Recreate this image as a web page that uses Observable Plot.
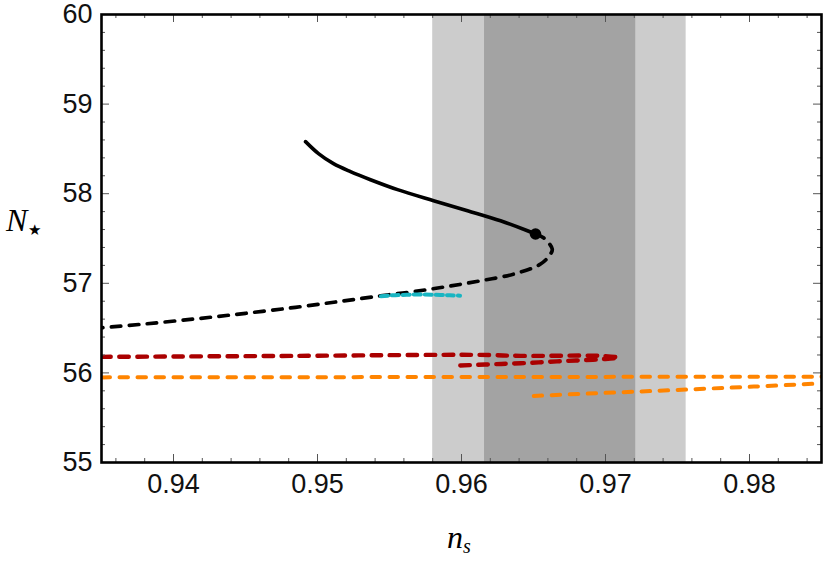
<!DOCTYPE html>
<html>
<head>
<meta charset="utf-8">
<script src="https://cdn.jsdelivr.net/npm/d3@7"></script>
<script src="https://cdn.jsdelivr.net/npm/@observablehq/plot@0.6"></script>
<style>
  html, body { margin: 0; padding: 0; background: #fff; }
  #chart { width: 826px; height: 565px; }
</style>
</head>
<body>
<div id="chart"></div>
<script>
// ---- Data ----
// Observational bands in n_s (2-sigma light, 1-sigma dark)
const band2 = [0.9580, 0.9756];
const band1 = [0.9616, 0.9721];

// Black solid branch
const solidNs = [0.94917, 0.95007, 0.95111, 0.95229, 0.95368, 0.95556, 0.95806, 0.96042, 0.96271, 0.96458, 0.96514];
const solidN  = [58.581, 58.447, 58.335, 58.246, 58.156, 58.045, 57.922, 57.810, 57.698, 57.587, 57.550];

// Black dashed branch
const dashNs = [0.96514, 0.96572, 0.96630, 0.96618, 0.96549, 0.96363, 0.96132, 0.95901, 0.95669, 0.95438, 0.95160, 0.94847, 0.94500, 0.94153, 0.93806, 0.93500];
const dashN  = [57.550, 57.505, 57.382, 57.326, 57.215, 57.103, 57.028, 56.964, 56.908, 56.860, 56.799, 56.732, 56.665, 56.603, 56.547, 56.503];

// Marked point
const pointNs = [0.96514];
const pointN  = [57.550];

// Cyan dashed
const cyanNs = [0.9544, 0.9552, 0.9562, 0.9572, 0.9582, 0.9592, 0.9599];
const cyanN  = [56.855, 56.866, 56.872, 56.876, 56.872, 56.866, 56.862];

// Dark red dashed (upper branch then lower branch)
const redNs = [0.93500, 0.94847, 0.96118, 0.96410, 0.96965, 0.97090, 0.96977, 0.96847, 0.96734, 0.96595, 0.96479, 0.96340, 0.96224, 0.96097, 0.95988];
const redN  = [56.179, 56.190, 56.201, 56.190, 56.190, 56.171, 56.153, 56.142, 56.134, 56.123, 56.112, 56.104, 56.097, 56.089, 56.082];

// Orange dashed: flat branch and lower rising branch
const orangeANs = [0.935, 0.960, 0.985];
const orangeAN  = [55.950, 55.954, 55.958];
const orangeBNs = [0.96502, 0.96873, 0.97335, 0.98030, 0.98500];
const orangeBN  = [55.743, 55.769, 55.799, 55.847, 55.883];

// Axes
const xDomain = [0.935, 0.985];
const yDomain = [55, 60];
const xMajor = [0.94, 0.95, 0.96, 0.97, 0.98];
const yMajor = [55, 56, 57, 58, 59, 60];
const xMinor = d3.range(0.936, 0.9849, 0.002).map(v => +v.toFixed(3)).filter(v => !xMajor.some(m => Math.abs(m - v) < 1e-6));
const yMinor = d3.range(55.2, 59.99, 0.2).map(v => +v.toFixed(1)).filter(v => !yMajor.includes(v));

// ---- Layout ----
const W = 826, H = 565;
const mL = 101, mR = 5, mT = 14, mB = 103;
const pW = W - mL - mR, pH = H - mT - mB;
const majLen = 8, minLen = 4;

const zip = (xs, ys) => xs.map((x, i) => ({x, y: ys[i]}));
const dashStyle = "9.5,8.5";

const tickCol = "#555";
const fontSans = "'Liberation Sans', Arial, Helvetica, sans-serif";
const chart = Plot.plot({
  width: W, height: H,
  marginLeft: mL, marginRight: mR, marginTop: mT, marginBottom: mB,
  style: {fontFamily: fontSans, fontSize: "27px", background: "#fff"},
  x: {domain: xDomain, label: null},
  y: {domain: yDomain, label: null},
  marks: [
    Plot.rectX([band2], {x1: d => d[0], x2: d => d[1], fill: "#cccccc"}),
    Plot.rectX([band1], {x1: d => d[0], x2: d => d[1], fill: "#a3a3a3"}),
    Plot.line(zip(orangeANs, orangeAN), {x: "x", y: "y", stroke: "#ff8400", strokeWidth: 4, strokeDasharray: "8.5,9.5", clip: true}),
    Plot.line(zip(orangeBNs, orangeBN), {x: "x", y: "y", stroke: "#ff8400", strokeWidth: 4, strokeDasharray: "8.5,9.5", curve: "catmull-rom", clip: true}),
    Plot.line(zip(redNs, redN), {x: "x", y: "y", stroke: "#aa0000", strokeWidth: 4.4, strokeDasharray: dashStyle, curve: "catmull-rom", clip: true}),
    Plot.line(zip(dashNs, dashN), {x: "x", y: "y", stroke: "#000", strokeWidth: 3.7, strokeDasharray: dashStyle, curve: "catmull-rom", clip: true}),
    Plot.line(zip(cyanNs, cyanN), {x: "x", y: "y", stroke: "#19b5c2", strokeWidth: 4, strokeDasharray: "7,4", curve: "catmull-rom", clip: true}),
    Plot.line(zip(solidNs, solidN), {x: "x", y: "y", stroke: "#000", strokeWidth: 3.6, curve: "catmull-rom", clip: true}),
    Plot.dot(zip(pointNs, pointN), {x: "x", y: "y", r: 5.8, fill: "#000"}),
    // ticks, inward on all four sides
    Plot.tickX(xMajor, {x: d => d, stroke: tickCol, insetTop: pH - majLen}),
    Plot.tickX(xMinor, {x: d => d, stroke: tickCol, insetTop: pH - minLen}),
    Plot.tickX(xMajor, {x: d => d, stroke: tickCol, insetBottom: pH - majLen}),
    Plot.tickX(xMinor, {x: d => d, stroke: tickCol, insetBottom: pH - minLen}),
    Plot.tickY(yMajor, {y: d => d, stroke: tickCol, insetRight: pW - majLen}),
    Plot.tickY(yMinor, {y: d => d, stroke: tickCol, insetRight: pW - minLen}),
    Plot.tickY(yMajor, {y: d => d, stroke: tickCol, insetLeft: pW - majLen}),
    Plot.tickY(yMinor, {y: d => d, stroke: tickCol, insetLeft: pW - minLen}),
    Plot.axisX(xMajor, {tickSize: 0, tickPadding: 11, fontSize: 27, tickFormat: d => d.toFixed(2), label: null, color: "#111"}),
    Plot.axisY(yMajor, {tickSize: 0, tickPadding: 9, fontSize: 27, tickFormat: d => String(d), label: null, color: "#111"}),
    Plot.frame({stroke: "#000", strokeWidth: 2.6})
  ]
});

const svg = d3.select(chart);
const yl = svg.append("text")
  .attr("x", 6).attr("y", 231)
  .attr("text-anchor", "start")
  .attr("font-family", "'Liberation Serif', 'Times New Roman', serif")
  .attr("font-style", "italic").attr("font-size", 32).attr("fill", "#000");
yl.append("tspan").text("N");
yl.append("tspan").attr("font-style", "normal").attr("font-size", 15).attr("dy", 4).attr("dx", 1).text("★");

const xl = svg.append("text")
  .attr("x", 447).attr("y", 548)
  .attr("text-anchor", "start")
  .attr("font-family", "'Liberation Serif', 'Times New Roman', serif")
  .attr("font-style", "italic").attr("font-size", 32).attr("fill", "#000");
xl.append("tspan").text("n");
xl.append("tspan").attr("font-size", 20).attr("dy", 5).text("s");

document.getElementById("chart").appendChild(chart);
</script>
</body>
</html>
